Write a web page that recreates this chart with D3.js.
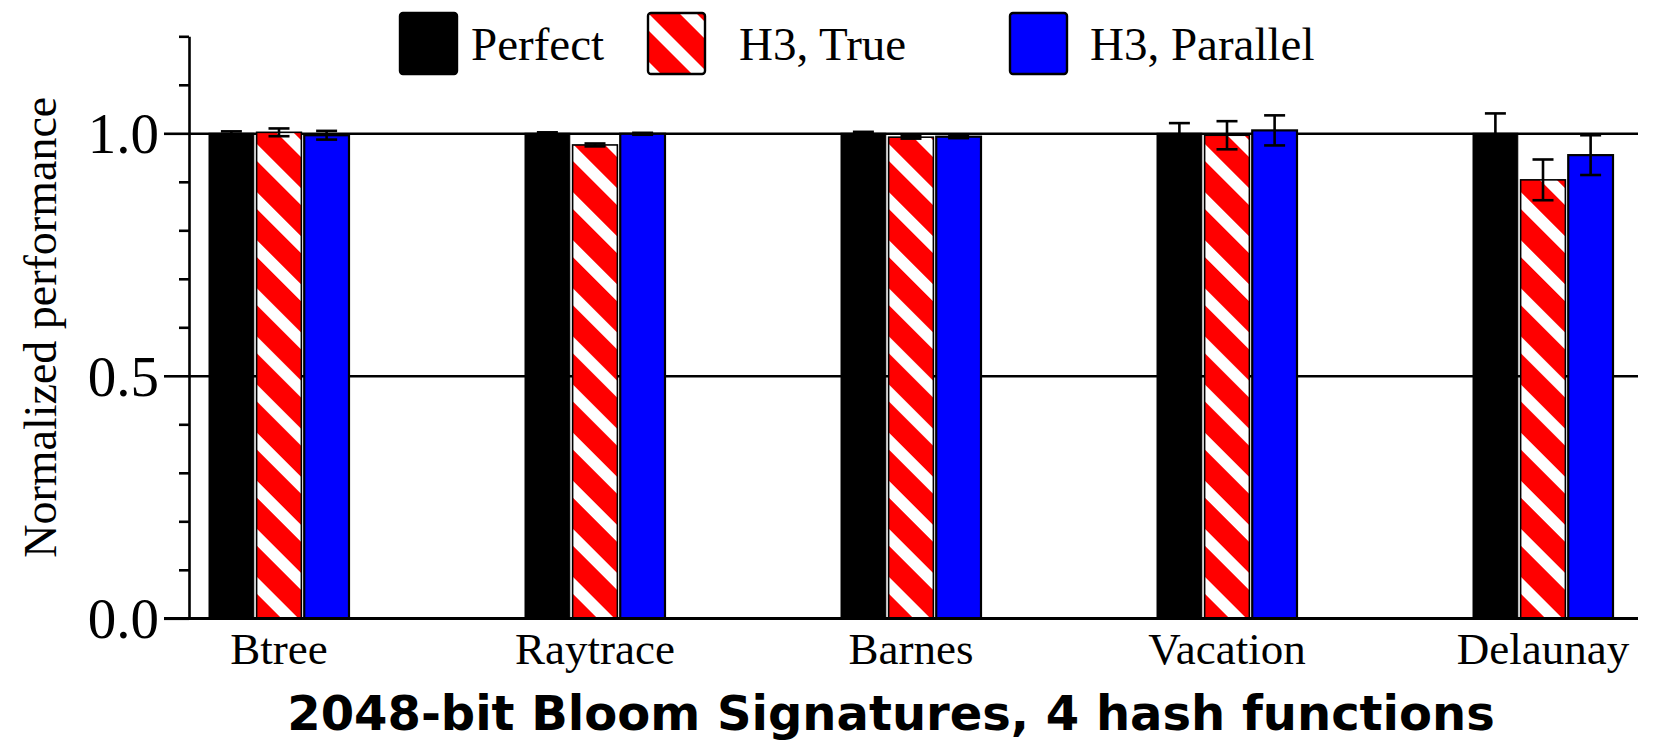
<!DOCTYPE html>
<html>
<head>
<meta charset="utf-8">
<script src="https://cdn.jsdelivr.net/npm/d3@7"></script>
<style>
  html, body { margin: 0; padding: 0; background: #fff; }
  svg { display: block; }
</style>
</head>
<body>
<svg id="chart" width="1659" height="742"></svg>
<script>
// Benchmarks and series
const categories = ["Btree", "Raytrace", "Barnes", "Vacation", "Delaunay"];
const seriesNames = ["Perfect", "H3, True", "H3, Parallel"];
const perfect      = [1.000, 1.000, 1.000, 1.000, 1.000];
const perfectErr   = [0.004, 0.002, 0.003, 0.021, 0.041];
const h3True       = [1.002, 0.976, 0.992, 0.996, 0.904];
const h3TrueErr    = [0.008, 0.003, 0.003, 0.029, 0.042];
const h3Parallel   = [0.996, 0.999, 0.993, 1.006, 0.955];
const h3ParallelErr= [0.009, 0.002, 0.003, 0.031, 0.041];
const yLabelTicks  = [0.0, 0.5, 1.0];
const yMinorTicks  = [0.1, 0.2, 0.3, 0.4, 0.6, 0.7, 0.8, 0.9, 1.1, 1.2];
const yTitle = "Normalized performance";
const xTitle = "2048-bit Bloom Signatures, 4 hash functions";

const seriesValues = [perfect, h3True, h3Parallel];
const seriesErrors = [perfectErr, h3TrueErr, h3ParallelErr];

const svg = d3.select("#chart");
const serif = "'Liberation Serif', 'Times New Roman', serif";

// Plot geometry
const axisX = 189, rightX = 1638, gridLeft = 164;
const yTop = 36.3, yBottom = 618.3;

const y = d3.scaleLinear().domain([0, 1.2]).range([yBottom, yTop]);
const x0 = d3.scaleBand().domain(categories).range([209, 1613]).paddingInner(0.557).paddingOuter(0);
const x1 = d3.scaleBand().domain(seriesNames).range([0, x0.bandwidth()]).paddingInner(0.06);

// Diagonal red/white stripes
const defs = svg.append("defs");
const pat = defs.append("pattern")
  .attr("id", "stripes")
  .attr("patternUnits", "userSpaceOnUse")
  .attr("width", 34).attr("height", 34)
  .attr("patternTransform", "rotate(45)");
pat.append("rect").attr("width", 34).attr("height", 34).attr("fill", "#ff0000");
pat.append("rect").attr("y", 0).attr("width", 34).attr("height", 12).attr("fill", "#ffffff");

const fills = ["#000000", "url(#stripes)", "#0000ff"];
const strokes = ["#000000", "#000000", "#000000"];
const strokeW = [1, 1.6, 2.2];

// Gridlines at labelled ticks (behind bars)
svg.append("g")
  .attr("transform", `translate(${axisX},0)`)
  .call(d3.axisLeft(y).tickValues(yLabelTicks).tickSizeInner(-(rightX - axisX)).tickSizeOuter(0).tickFormat(""))
  .call(g => g.select(".domain").remove())
  .call(g => g.selectAll(".tick line").attr("stroke", "#000").attr("stroke-width", 2.6));

// Bars
const groups = svg.append("g").selectAll("g")
  .data(categories)
  .join("g")
  .attr("transform", d => `translate(${x0(d)},0)`);

seriesNames.forEach((s, si) => {
  groups.append("rect")
    .attr("x", x1(s))
    .attr("y", (d, i) => y(seriesValues[si][i]))
    .attr("width", x1.bandwidth())
    .attr("height", (d, i) => y(0) - y(seriesValues[si][i]))
    .attr("fill", fills[si])
    .attr("stroke", strokes[si])
    .attr("stroke-width", strokeW[si]);
});

// Error bars
const capHalf = 10.5;
seriesNames.forEach((s, si) => {
  const cx = x1(s) + x1.bandwidth() / 2;
  const eb = groups.append("g").attr("stroke", "#000").attr("stroke-width", 2.6).attr("fill", "none");
  eb.append("line")
    .attr("x1", cx).attr("x2", cx)
    .attr("y1", (d, i) => y(seriesValues[si][i] + seriesErrors[si][i]))
    .attr("y2", (d, i) => y(seriesValues[si][i] - seriesErrors[si][i]));
  eb.append("line")
    .attr("x1", cx - capHalf).attr("x2", cx + capHalf)
    .attr("y1", (d, i) => y(seriesValues[si][i] + seriesErrors[si][i]))
    .attr("y2", (d, i) => y(seriesValues[si][i] + seriesErrors[si][i]));
  eb.append("line")
    .attr("x1", cx - capHalf).attr("x2", cx + capHalf)
    .attr("y1", (d, i) => y(seriesValues[si][i] - seriesErrors[si][i]))
    .attr("y2", (d, i) => y(seriesValues[si][i] - seriesErrors[si][i]));
});

// Baseline
svg.append("line")
  .attr("x1", gridLeft).attr("x2", rightX)
  .attr("y1", y(0)).attr("y2", y(0))
  .attr("stroke", "#000").attr("stroke-width", 2.6);

// Y axis: minor ticks
svg.append("g")
  .attr("transform", `translate(${axisX},0)`)
  .call(d3.axisLeft(y).tickValues(yMinorTicks).tickSizeInner(10).tickSizeOuter(0).tickFormat(""))
  .call(g => g.select(".domain").attr("stroke", "#000").attr("stroke-width", 2.6))
  .call(g => g.selectAll(".tick line").attr("stroke", "#000").attr("stroke-width", 2.6));

// Y axis: labelled ticks
svg.append("g")
  .attr("transform", `translate(${axisX},0)`)
  .call(d3.axisLeft(y).tickValues(yLabelTicks).tickSizeInner(25).tickSizeOuter(0).tickPadding(5).tickFormat(d3.format(".1f")))
  .call(g => g.select(".domain").remove())
  .call(g => g.selectAll(".tick line").attr("stroke", "#000").attr("stroke-width", 2.6))
  .call(g => g.selectAll(".tick text").attr("fill", "#000").attr("font-family", serif).attr("font-size", 57).attr("dy", "0.34em"));

// X axis labels
svg.append("g")
  .attr("transform", `translate(0,${y(0)})`)
  .call(d3.axisBottom(x0).tickSize(0).tickPadding(14))
  .call(g => g.select(".domain").remove())
  .call(g => g.selectAll(".tick text").attr("fill", "#000").attr("font-family", serif).attr("font-size", 45).attr("dy", "0.71em"));

// Axis titles
svg.append("text")
  .attr("transform", `translate(56,${(yTop + yBottom) / 2}) rotate(-90)`)
  .attr("text-anchor", "middle")
  .attr("font-family", serif).attr("font-size", 46)
  .text(yTitle);

svg.append("text")
  .attr("x", 891).attr("y", 730)
  .attr("text-anchor", "middle")
  .attr("font-family", "'DejaVu Sans', Verdana, sans-serif")
  .attr("font-weight", "bold").attr("font-size", 48)
  .text(xTitle);

// Legend
const legendX = [400, 648, 1010];
const legend = svg.append("g").selectAll("g")
  .data(seriesNames)
  .join("g")
  .attr("transform", (d, i) => `translate(${legendX[i]},13)`);
legend.append("rect")
  .attr("width", 57).attr("height", 61).attr("rx", 3)
  .attr("fill", (d, i) => fills[i])
  .attr("stroke", "#000").attr("stroke-width", 2.4);
legend.append("text")
  .attr("x", (d, i) => [71, 91, 80][i]).attr("y", 47)
  .attr("font-family", serif).attr("font-size", 47)
  .text(d => d);
</script>
</body>
</html>
